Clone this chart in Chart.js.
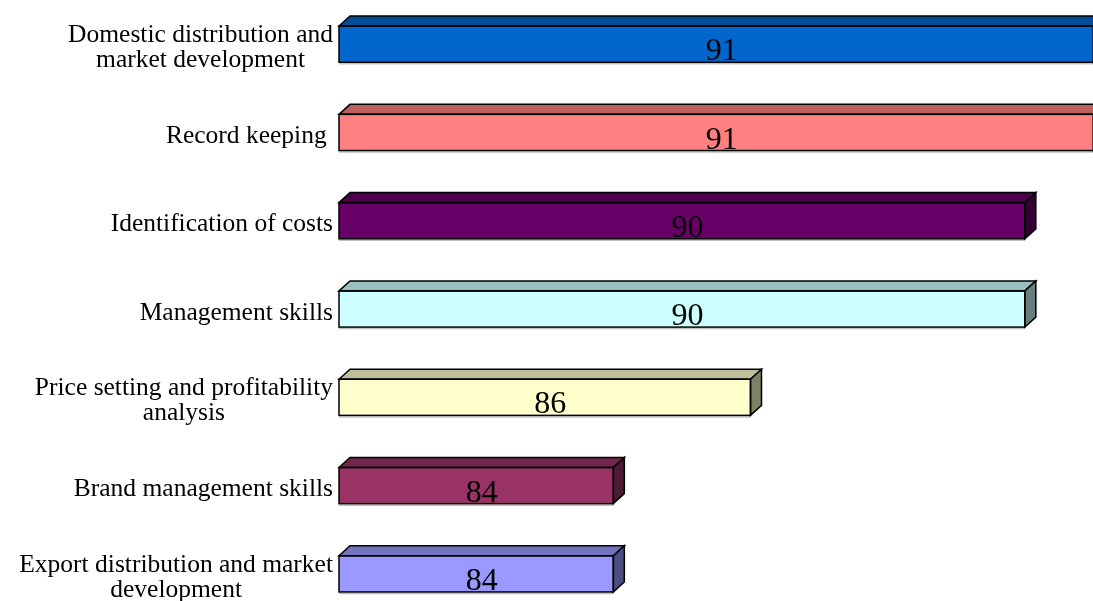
<!DOCTYPE html>
<html>
<head>
<meta charset="utf-8">
<script src="https://cdn.jsdelivr.net/npm/chart.js@4/dist/chart.umd.min.js"></script>
<style>
  html, body { margin: 0; padding: 0; background: #ffffff; overflow: hidden; width: 1093px; height: 601px; }
  #wrap { position: absolute; left: 0; top: 0; width: 1162px; height: 618px; }
</style>
</head>
<body>
<div id="wrap"><canvas id="c"></canvas></div>
<script>
// ---- data ----
const categories = [
  ["Domestic distribution and", "market development"],
  ["Record keeping "],
  ["Identification of costs"],
  ["Management skills"],
  ["Price setting and profitability", "analysis"],
  ["Brand management skills"],
  ["Export distribution and market", "development"]
];
const values = [91, 91, 90, 90, 86, 84, 84];
const frontColors = ["#0066CC", "#FF8080", "#660066", "#CCFFFF", "#FFFFCC", "#993366", "#9999FF"];
const axisMin = 80;
const axisMax = 92;

// ---- helpers ----
function shade(hex, f) {
  const n = parseInt(hex.slice(1), 16);
  const r = Math.round(((n >> 16) & 255) * f);
  const g = Math.round(((n >> 8) & 255) * f);
  const b = Math.round((n & 255) * f);
  return "rgb(" + r + "," + g + "," + b + ")";
}
const DX = 11, DY = 10;

const bar3d = {
  id: "bar3d",
  afterDatasetsDraw(chart) {
    const ctx = chart.ctx;
    const meta = chart.getDatasetMeta(0);
    ctx.save();
    ctx.lineJoin = "miter";
    meta.data.forEach((bar, i) => {
      const p = bar.getProps(["x", "y", "base", "height"], true);
      const top = p.y - p.height / 2, bottom = p.y + p.height / 2;
      const left = p.base, right = p.x;
      // faint shadow line under the bar
      ctx.strokeStyle = "rgba(0,0,0,0.25)";
      ctx.lineWidth = 1.5;
      ctx.beginPath();
      ctx.moveTo(left, bottom + 1.5);
      ctx.lineTo(right, bottom + 1.5);
      ctx.stroke();
      ctx.strokeStyle = "#000000";
      ctx.lineWidth = 1.5;
      // top face
      ctx.beginPath();
      ctx.moveTo(left, top);
      ctx.lineTo(left + DX, top - DY);
      ctx.lineTo(right + DX, top - DY);
      ctx.lineTo(right, top);
      ctx.closePath();
      ctx.fillStyle = shade(frontColors[i], 0.75);
      ctx.fill();
      ctx.stroke();
      // side face
      ctx.beginPath();
      ctx.moveTo(right, top);
      ctx.lineTo(right + DX, top - DY);
      ctx.lineTo(right + DX, bottom - DY);
      ctx.lineTo(right, bottom);
      ctx.closePath();
      ctx.fillStyle = shade(frontColors[i], 0.5);
      ctx.fill();
      ctx.stroke();
      // front outline
      ctx.strokeRect(left, top, right - left, bottom - top);
    });
    // data labels
    ctx.fillStyle = "#000000";
    ctx.font = "32px 'Liberation Serif', 'Times New Roman', serif";
    ctx.textAlign = "center";
    ctx.textBaseline = "alphabetic";
    meta.data.forEach((bar, i) => {
      const p = bar.getProps(["x", "y", "base", "height"], true);
      const cx = (p.base + p.x) / 2 + DX / 2;
      const by = p.y + p.height / 2 - 2;
      ctx.fillText(String(values[i]), cx, by);
    });
    ctx.restore();
  },
  afterDraw(chart) {
    const ctx = chart.ctx;
    const ys = chart.scales.y;
    const right = chart.chartArea.left - 6;
    ctx.save();
    ctx.fillStyle = "#000000";
    ctx.font = "25.5px 'Liberation Serif', 'Times New Roman', serif";
    ctx.textBaseline = "middle";
    ctx.textAlign = "center";
    const lh = 25;
    categories.forEach((lines, i) => {
      const yc = ys.getPixelForValue(i) + 4;
      const widths = lines.map(l => ctx.measureText(l).width);
      const w = Math.max(...widths);
      const cx = right - w / 2;
      const y0 = yc - (lines.length - 1) * lh / 2;
      lines.forEach((l, k) => ctx.fillText(l, cx, y0 + k * lh));
    });
    ctx.restore();
  }
};

new Chart(document.getElementById("c"), {
  type: "bar",
  data: {
    labels: categories,
    datasets: [{
      data: values,
      base: axisMin,
      backgroundColor: frontColors,
      borderWidth: 0,
      barPercentage: 0.41,
      categoryPercentage: 1.0
    }]
  },
  options: {
    indexAxis: "y",
    responsive: true,
    maintainAspectRatio: false,
    animation: false,
    layout: { padding: { left: 339, right: 0, top: 0, bottom: 0 } },
    plugins: { legend: { display: false }, tooltip: { enabled: false } },
    scales: {
      x: { display: false, min: axisMin, max: axisMax },
      y: { display: false }
    }
  },
  plugins: [bar3d]
});
</script>
</body>
</html>
